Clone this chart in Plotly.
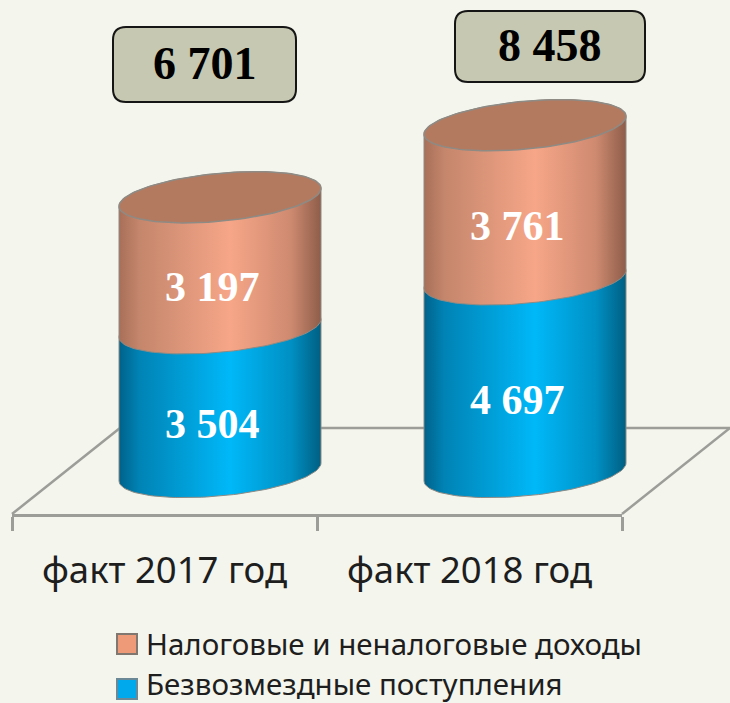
import numpy as np
import plotly.graph_objects as go

categories = ["факт 2017 год", "факт 2018 год"]
grants = [3504, 4697]
tax_income = [3197, 3761]
totals = [6701, 8458]
grants_name = "Безвозмездные поступления"
tax_name = "Налоговые и неналоговые доходы"

W, H = 730, 703
BG = "#F4F5ED"
PX_PER_UNIT = 0.041      # vertical pixels per value unit
BASE_PX = 472            # pixel row of value 0 (cylinder axis)
CENTER_PX = 220          # first cylinder centre
STEP_PX = 305            # distance between cylinders
RX = 101 / STEP_PX       # ellipse half-width in category units
RY = 24 / PX_PER_UNIT    # ellipse half-height in value units
TILT = 9 / PX_PER_UNIT   # rise of the ellipse at its right end

BLUE = [[0, "#00628A"], [0.1, "#0083B5"], [0.55, "#00B8F8"], [0.85, "#0090C4"], [1, "#005F82"]]
ORANGE = [[0, "#A86F58"], [0.1, "#C4866C"], [0.55, "#F7A688"], [0.85, "#CE8A70"], [1, "#8E5D4A"]]
CAP = "#B47A60"
EDGE = "#8E8A84"
AXIS = "#9C9C98"


def arc(c, v, t0, t1, n=60):
    t = np.linspace(t0, t1, n)
    return c + RX * np.cos(t), v + TILT * np.cos(t) + RY * np.sin(t)


def body(c, v0, v1):
    # front arc at v0 (left to right), then back arc at v1 (right to left)
    x0, y0 = arc(c, v0, np.pi, 2 * np.pi)
    x1, y1 = arc(c, v1, 0, np.pi)
    return np.r_[x0, x1, x0[0]], np.r_[y0, y1, y0[0]]


def px(x):
    return x / W


def py(y):
    return 1 - y / H


fig = go.Figure()

# Category axis lives on its own subplot so it can span just the floor's front edge
fig.add_trace(go.Scatter(x=categories, y=totals, mode="markers", marker=dict(opacity=0),
                         hoverinfo="skip", showlegend=False, xaxis="x", yaxis="y"))

for i, (g, t) in enumerate(zip(grants, tax_income)):
    xs, ys = body(i, 0, g)
    fig.add_trace(go.Scatter(x=xs, y=ys, mode="lines", fill="toself",
                             fillgradient=dict(type="horizontal", colorscale=BLUE),
                             line=dict(color=EDGE, width=1), hoverinfo="skip",
                             showlegend=False, xaxis="x2", yaxis="y2"))
    xs, ys = body(i, g, g + t)
    fig.add_trace(go.Scatter(x=xs, y=ys, mode="lines", fill="toself",
                             fillgradient=dict(type="horizontal", colorscale=ORANGE),
                             line=dict(color=EDGE, width=1), hoverinfo="skip",
                             showlegend=False, xaxis="x2", yaxis="y2"))
    xs, ys = arc(i, g + t, 0, 2 * np.pi, 120)
    fig.add_trace(go.Scatter(x=xs, y=ys, mode="lines", fill="toself", fillcolor=CAP,
                             line=dict(color=EDGE, width=1.5), hoverinfo="skip",
                             showlegend=False, xaxis="x2", yaxis="y2"))


def fmt(v):
    return f"{v:,}".replace(",", " ")


annotations = []
for i, (g, t) in enumerate(zip(grants, tax_income)):
    for v, val in ((g / 2, g), (g + t / 2, t)):
        annotations.append(dict(x=i, y=v, xref="x2", yref="y2", text=f"<b>{fmt(val)}</b>",
                                showarrow=False, xshift=-8, yshift=-24,
                                xanchor="center", yanchor="middle",
                                font=dict(family="Liberation Serif", size=42, color="white")))

box_px = [(113, 27, 296, 102), (455, 11, 645, 82)]
shapes = []
for (x0, y0, x1, y1), total in zip(box_px, totals):
    r = 13
    path = (f"M{px(x0+r)},{py(y0)} L{px(x1-r)},{py(y0)} Q{px(x1)},{py(y0)} {px(x1)},{py(y0+r)} "
            f"L{px(x1)},{py(y1-r)} Q{px(x1)},{py(y1)} {px(x1-r)},{py(y1)} "
            f"L{px(x0+r)},{py(y1)} Q{px(x0)},{py(y1)} {px(x0)},{py(y1-r)} "
            f"L{px(x0)},{py(y0+r)} Q{px(x0)},{py(y0)} {px(x0+r)},{py(y0)} Z")
    shapes.append(dict(type="path", path=path, xref="paper", yref="paper",
                       fillcolor="#C7C8B1", line=dict(color="#151515", width=2)))
    annotations.append(dict(x=px((x0 + x1) / 2), y=py((y0 + y1) / 2 - 1), xref="paper", yref="paper",
                            text=f"<b>{fmt(total)}</b>", showarrow=False,
                            xanchor="center", yanchor="middle",
                            font=dict(family="Liberation Serif", size=46, color="black")))

# Floor of the 3D chart
floor = [((12, 514), (120, 428)), ((120, 428), (730, 428)), ((622, 514), (730, 428))]
for (x0, y0), (x1, y1) in floor:
    shapes.append(dict(type="line", xref="paper", yref="paper", layer="below",
                       x0=px(x0), y0=py(y0), x1=px(x1), y1=py(y1),
                       line=dict(color=AXIS, width=2.5)))

# Legend: two rows with 20 px swatches, larger than a Plotly legend's own markers allow
legend_rows = [(tax_name, "#EE9A78", "#7F7770", 634, 654, 643),
               (grants_name, "#00A8EC", "#6A8896", 679, 699, 683)]
for name, fill, edge, top, bottom, mid in legend_rows:
    shapes.append(dict(type="rect", xref="paper", yref="paper",
                       x0=px(117), x1=px(137), y0=py(bottom), y1=py(top),
                       fillcolor=fill, line=dict(color=edge, width=2)))
    annotations.append(dict(x=px(144), y=py(mid), xref="paper", yref="paper", text=name,
                            showarrow=False, xanchor="left", yanchor="middle",
                            font=dict(family="Noto Sans", size=29.5, color="#1E1E1E")))

fig.update_layout(
    width=W, height=H, margin=dict(l=0, r=0, t=0, b=0),
    paper_bgcolor=BG, plot_bgcolor="rgba(0,0,0,0)",
    showlegend=False,
    xaxis=dict(type="category", categoryorder="array", categoryarray=categories,
               domain=[12 / W, 622 / W], range=[-0.5, 1.5], anchor="y",
               tickson="boundaries", ticks="outside", ticklen=14, tickwidth=2.5, tickcolor=AXIS,
               showline=True, linecolor=AXIS, linewidth=2.5, showgrid=False, zeroline=False,
               ticklabelstandoff=22, fixedrange=True,
               tickfont=dict(family="Noto Sans", size=36.5, color="#1E1E1E")),
    yaxis=dict(domain=[1 - 514 / H, 1], range=[(BASE_PX - 514) / PX_PER_UNIT, BASE_PX / PX_PER_UNIT],
               visible=False, anchor="x", fixedrange=True),
    xaxis2=dict(domain=[0, 1], range=[-CENTER_PX / STEP_PX, (W - CENTER_PX) / STEP_PX],
                visible=False, anchor="y2", fixedrange=True),
    yaxis2=dict(domain=[0, 1], range=[(BASE_PX - H) / PX_PER_UNIT, BASE_PX / PX_PER_UNIT],
                visible=False, anchor="x2", fixedrange=True),
    shapes=shapes, annotations=annotations,
)

fig.write_html("out.html", config=dict(displayModeBar=False),
               post_script="document.body.style.margin='0';document.body.style.background='#F4F5ED';")
